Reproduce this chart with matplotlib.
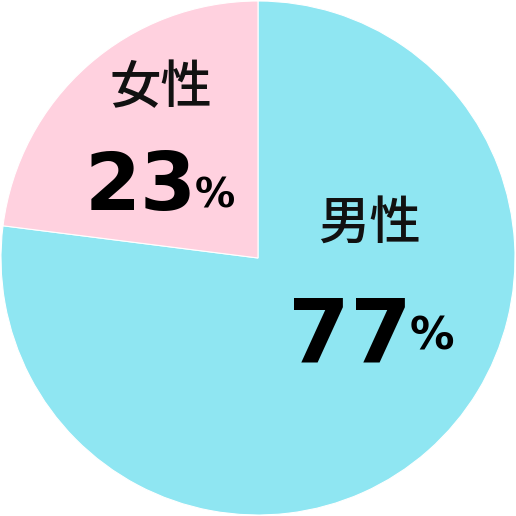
import matplotlib.pyplot as plt

# 男女比
labels = ['男性', '女性']
values = [77, 23]
colors = ['#8fe6f2', '#ffd1df']

plt.rcParams['font.family'] = ['Noto Sans CJK JP', 'DejaVu Sans']

fig = plt.figure(figsize=(5.16, 5.16), dpi=100)
ax = fig.add_axes([0, 0, 1, 1])

ax.pie(values, colors=colors, startangle=90, counterclock=False,
       wedgeprops=dict(edgecolor='white', linewidth=0.8))

lim = 258 / 257
ax.set_xlim(-lim, lim)
ax.set_ylim(-lim, lim)
ax.set_aspect('equal')
ax.axis('off')


def px(x, y):
    # 画像のピクセル位置 -> データ座標
    return (x - 258) / 257, (258 - y) / 257


# ラベル: (名前の中心, 数字の中心/ベースライン, %の中心/ベースライン, 数字サイズ)
layout = [
    ((369, 224), (350, 363), (432, 350), 64),
    ((161, 88), (141, 210), (215, 207), 58),
]

for lab, val, (name_xy, num_xy, pct_xy, size) in zip(labels, values, layout):
    ax.text(*px(*name_xy), lab, ha='center', va='center',
            fontsize=37, fontweight='medium', color='#111111')
    ax.text(*px(*num_xy), str(val), ha='center', va='baseline',
            family='DejaVu Sans', fontsize=size, fontweight='bold', color='black')
    ax.text(*px(*pct_xy), '%', ha='center', va='baseline',
            family='DejaVu Sans', fontsize=size * 0.5, fontweight='bold', color='black')

fig.savefig('out.png', dpi=100)
